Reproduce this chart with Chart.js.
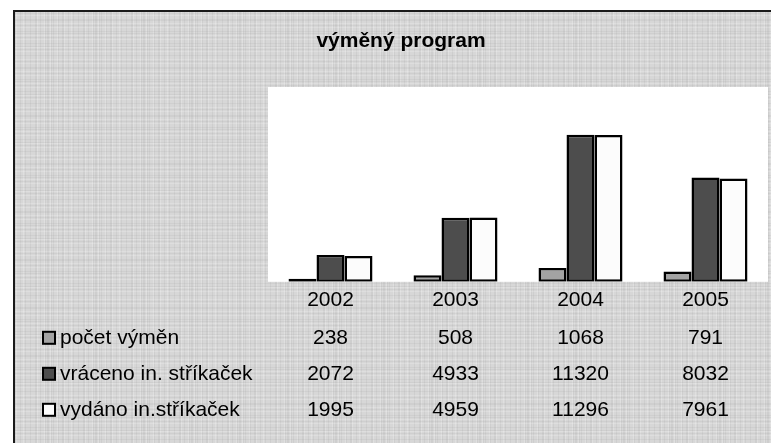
<!DOCTYPE html>
<html>
<head>
<meta charset="utf-8">
<style>
  html, body { margin: 0; padding: 0; background: #fff; }
  #wrap { width: 771px; height: 443px; }
</style>
<script src="https://cdn.jsdelivr.net/npm/chart.js@4.4.1/dist/chart.umd.min.js"></script>
</head>
<body>
<div id="wrap"><canvas id="chartVymena" width="771" height="443"></canvas></div>
<script>
// data
const roky = ['2002', '2003', '2004', '2005'];
const pocetVymen = [238, 508, 1068, 791];
const vraceno = [2072, 4933, 11320, 8032];
const vydano = [1995, 4959, 11296, 7961];
const nazvySerii = ['počet výměn', 'vráceno in. stříkaček', 'vydáno in.stříkaček'];
const barvy = ['#a3a3a3', '#4d4d4d', '#fcfcfc'];

const pismo = "'Liberation Sans', Arial, sans-serif";

// sedy texturovany podklad (deterministicky vzor)
function makeTexture(ctx) {
    const c = document.createElement('canvas');
    c.width = 48; c.height = 48;
    const t = c.getContext('2d');
    t.fillStyle = '#d7d7d7';
    t.fillRect(0, 0, 48, 48);
    for (let x = 0; x < 48; x++) {
        if (x % 5 === 0 || x % 11 === 3) {
            t.fillStyle = 'rgba(150,150,150,0.12)';
            t.fillRect(x, 0, 1, 48);
        } else if (x % 7 === 2) {
            t.fillStyle = 'rgba(255,255,255,0.22)';
            t.fillRect(x, 0, 1, 48);
        }
    }
    for (let y = 0; y < 48; y++) {
        if (y % 6 === 1 || y % 13 === 7) {
            t.fillStyle = 'rgba(140,140,140,0.1)';
            t.fillRect(0, y, 48, 1);
        } else if (y % 4 === 3) {
            t.fillStyle = 'rgba(255,255,255,0.18)';
            t.fillRect(0, y, 48, 1);
        }
    }
    return ctx.createPattern(c, 'repeat');
}

const pozadiPlugin = {
    id: 'pozadi',
    beforeDraw(chart) {
        const ctx = chart.ctx;
        const a = chart.chartArea;
        ctx.save();
        ctx.fillStyle = '#fff';
        ctx.fillRect(0, 0, chart.width, chart.height);
        ctx.fillStyle = makeTexture(ctx);
        ctx.fillRect(14, 11, chart.width - 14, chart.height - 11);
        // ramecek
        ctx.strokeStyle = '#1a1a1a';
        ctx.lineWidth = 2;
        ctx.beginPath();
        ctx.moveTo(14, chart.height);
        ctx.lineTo(14, 11);
        ctx.lineTo(chart.width, 11);
        ctx.stroke();
        // bila plocha grafu
        ctx.fillStyle = '#fff';
        ctx.fillRect(a.left, a.top, a.right - a.left, a.bottom - a.top);
        // nadpis
        ctx.fillStyle = '#000';
        ctx.font = 'bold 21px ' + pismo;
        ctx.textAlign = 'center';
        ctx.textBaseline = 'middle';
        ctx.fillText('výměný program', 401, 41);
        ctx.restore();
    }
};

const tabulkaPlugin = {
    id: 'tabulka',
    afterDraw(chart) {
        const ctx = chart.ctx;
        const xs = chart.scales.x;
        const a = chart.chartArea;
        ctx.save();
        ctx.font = '21px ' + pismo;
        ctx.textBaseline = 'middle';
        chart.data.datasets.forEach(function(ds, i) {
            const y = a.bottom + 56 + i * 36;
            // znacka legendy
            ctx.fillStyle = ds.backgroundColor;
            ctx.fillRect(43, y - 6, 12, 12);
            ctx.strokeStyle = '#000';
            ctx.lineWidth = 2;
            ctx.strokeRect(43, y - 6, 12, 12);
            ctx.fillStyle = '#000';
            ctx.textAlign = 'left';
            ctx.fillText(ds.label, 60, y);
            ctx.textAlign = 'center';
            ds.data.forEach(function(v, j) {
                ctx.fillText(String(v), xs.getPixelForValue(j), y);
            });
        });
        ctx.restore();
    }
};

const ctxVymena = document.getElementById('chartVymena').getContext('2d');
const chartVymena = new Chart(ctxVymena, {
    type: 'bar',
    data: {
        labels: roky,
        datasets: [
            { label: nazvySerii[0], data: pocetVymen, backgroundColor: barvy[0] },
            { label: nazvySerii[1], data: vraceno, backgroundColor: barvy[1] },
            { label: nazvySerii[2], data: vydano, backgroundColor: barvy[2] }
        ]
    },
    options: {
        responsive: false,
        animation: false,
        devicePixelRatio: 1,
        layout: {
            padding: { left: 268, right: 3, top: 87, bottom: 132 }
        },
        datasets: {
            bar: {
                borderColor: '#000',
                borderWidth: 2.5,
                borderSkipped: false,
                categoryPercentage: 0.672,
                barPercentage: 1
            }
        },
        plugins: {
            legend: { display: false },
            title: { display: false },
            tooltip: { enabled: false }
        },
        scales: {
            x: {
                grid: { display: false },
                border: { display: false },
                ticks: {
                    color: '#000',
                    padding: -2,
                    font: { size: 21, family: pismo }
                }
            },
            y: {
                display: false,
                min: 0,
                max: 15000
            }
        }
    },
    plugins: [pozadiPlugin, tabulkaPlugin]
});
</script>
</body>
</html>
